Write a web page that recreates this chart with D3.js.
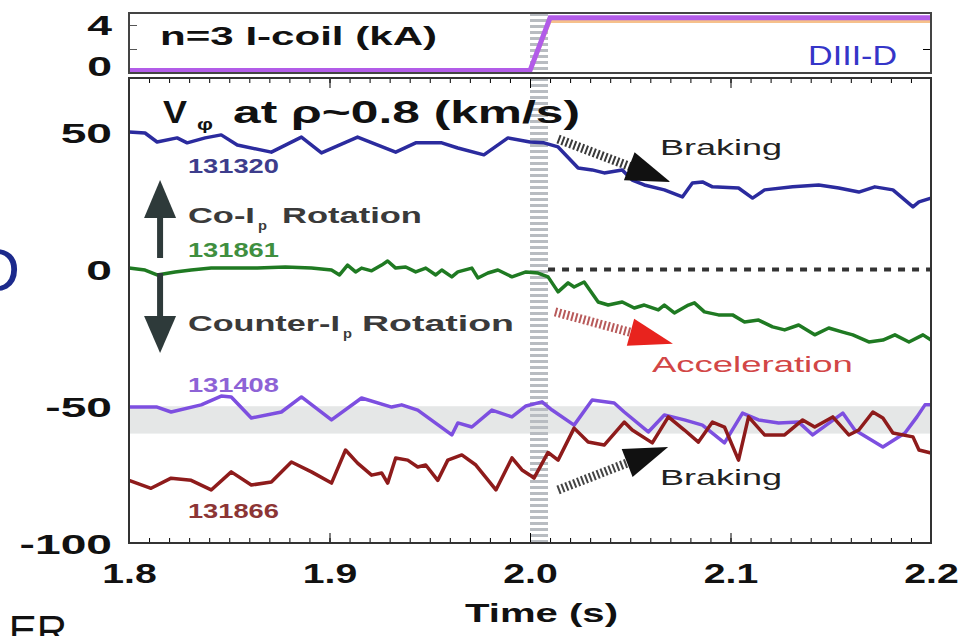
<!DOCTYPE html>
<html>
<head>
<meta charset="utf-8">
<script src="https://cdn.jsdelivr.net/npm/d3@7"></script>
<style>
body { margin: 0; background: #fff; }
text { font-family: "Liberation Sans", Arial, sans-serif; }
</style>
</head>
<body>
<script>
// ---- data ----
var xMajor = [1.8, 1.9, 2.0, 2.1, 2.2];
var xTickLabels = ["1.8", "1.9", "2.0", "2.1", "2.2"];
var yMajor = [-100, -50, 0, 50];
var yTickLabels = ["-100", "-50", "0", "50"];
var coilTicks = [0, 2, 4];

// n=3 I-coil current (kA)
var coilTime = [1.8, 2.0, 2.01, 2.2];
var coilCurrent = [0.2, 0.2, 4.6, 4.6];
var coilCurrentB = [0.1, 0.1, 4.3, 4.3];

// shot 131320
var t131320 = [1.800, 1.808, 1.814, 1.824, 1.829, 1.838, 1.846, 1.854, 1.871, 1.886, 1.896, 1.914, 1.933, 1.943, 1.956, 1.964, 1.977, 1.989, 2.000, 2.007, 2.014, 2.024, 2.031, 2.037, 2.046, 2.051, 2.057, 2.067, 2.076, 2.081, 2.086, 2.091, 2.104, 2.111, 2.117, 2.131, 2.144, 2.154, 2.164, 2.172, 2.181, 2.191, 2.194, 2.200];
var v131320 = [50.3, 49.9, 46.6, 48.1, 46.3, 48.1, 49.2, 45.5, 42.9, 48.4, 42.6, 48.4, 42.9, 46.3, 46.3, 44.4, 41.9, 48.1, 46.6, 46.3, 44.8, 37.1, 36.4, 35.3, 36.4, 32.7, 30.9, 29.1, 26.5, 31.6, 32.0, 30.2, 29.8, 26.1, 29.1, 30.2, 30.9, 29.8, 28.3, 30.2, 29.1, 22.9, 24.7, 26.1];

// shot 131861
var t131861 = [1.800, 1.808, 1.814, 1.823, 1.831, 1.841, 1.851, 1.864, 1.878, 1.891, 1.901, 1.905, 1.909, 1.913, 1.916, 1.921, 1.926, 1.929, 1.933, 1.938, 1.943, 1.948, 1.953, 1.956, 1.961, 1.964, 1.971, 1.974, 1.979, 1.984, 1.991, 1.998, 2.004, 2.009, 2.014, 2.019, 2.022, 2.027, 2.034, 2.039, 2.046, 2.052, 2.057, 2.064, 2.067, 2.072, 2.079, 2.082, 2.087, 2.094, 2.101, 2.107, 2.114, 2.121, 2.127, 2.134, 2.142, 2.149, 2.156, 2.161, 2.169, 2.176, 2.182, 2.189, 2.196, 2.200];
var v131861 = [0.5, -0.2, -2.0, -0.9, -0.2, 0.5, 0.5, 0.5, 0.9, 0.5, -0.2, -2.0, 1.6, -0.9, 0.5, -0.5, 1.6, 3.1, 0.5, 0.9, -0.9, 0.5, -2.0, -0.2, -2.7, -0.9, 0.5, -3.1, -1.3, -0.2, -2.7, -0.9, -1.3, -2.7, -8.2, -4.9, -6.4, -4.6, -11.9, -13.0, -11.9, -14.1, -13.0, -14.8, -13.0, -15.9, -13.0, -12.2, -15.5, -16.6, -16.6, -19.2, -18.5, -21.0, -22.1, -20.3, -23.9, -21.4, -22.9, -23.9, -26.5, -25.8, -23.9, -26.5, -23.9, -25.8];

// shot 131408
var t131408 = [1.800, 1.814, 1.821, 1.836, 1.846, 1.851, 1.861, 1.876, 1.886, 1.901, 1.916, 1.931, 1.936, 1.944, 1.961, 1.964, 1.971, 1.981, 1.991, 1.998, 2.006, 2.011, 2.022, 2.031, 2.042, 2.047, 2.059, 2.067, 2.077, 2.086, 2.097, 2.106, 2.114, 2.124, 2.134, 2.141, 2.156, 2.162, 2.176, 2.187, 2.193, 2.197, 2.200];
var v131408 = [-50.3, -50.3, -52.1, -49.5, -46.3, -46.6, -54.3, -52.1, -46.6, -55.0, -47.0, -50.3, -49.5, -51.4, -60.5, -56.1, -57.6, -51.4, -53.9, -49.9, -48.4, -51.4, -56.9, -47.7, -48.8, -52.1, -59.4, -53.2, -55.0, -56.9, -63.4, -52.5, -55.0, -56.1, -55.8, -60.5, -52.5, -58.7, -64.9, -59.8, -53.9, -49.5, -49.5];

// shot 131866
var t131866 = [1.800, 1.811, 1.821, 1.831, 1.841, 1.851, 1.861, 1.871, 1.881, 1.891, 1.901, 1.908, 1.914, 1.921, 1.926, 1.929, 1.933, 1.939, 1.944, 1.948, 1.954, 1.959, 1.966, 1.973, 1.983, 1.991, 1.996, 2.000, 2.002, 2.009, 2.014, 2.022, 2.029, 2.037, 2.047, 2.051, 2.061, 2.069, 2.077, 2.084, 2.091, 2.097, 2.104, 2.109, 2.117, 2.127, 2.136, 2.142, 2.151, 2.159, 2.164, 2.171, 2.176, 2.181, 2.191, 2.194, 2.200];
var v131866 = [-77.1, -80.0, -76.3, -77.1, -80.6, -74.0, -78.8, -77.7, -70.4, -74.0, -78.1, -66.0, -70.8, -75.2, -74.4, -78.1, -68.9, -69.7, -72.2, -71.5, -77.1, -69.7, -67.8, -71.5, -80.6, -68.9, -73.3, -75.2, -76.3, -66.9, -69.7, -58.0, -63.1, -64.2, -55.8, -58.7, -63.4, -53.9, -58.7, -63.1, -55.8, -57.6, -69.7, -53.9, -60.5, -60.5, -55.0, -57.6, -53.9, -60.5, -58.7, -52.1, -54.3, -59.8, -61.2, -66.0, -67.1];

var shots = [
  {name: "131320", t: t131320, v: v131320, color: "#2b2b9e", label: "#3d3d8c", lt: 1.8294, lv: 35.3},
  {name: "131861", t: t131861, v: v131861, color: "#1f7a22", label: "#3f8f3f", lt: 1.8294, lv: 4.6},
  {name: "131408", t: t131408, v: v131408, color: "#7d4fe0", label: "#8d63d6", lt: 1.8294, lv: -44.8},
  {name: "131866", t: t131866, v: v131866, color: "#8e1b1b", label: "#8c3535", lt: 1.8294, lv: -90.9}
];

var W = 965, H = 636;
var svg = d3.select("body").append("svg").attr("width", W).attr("height", H);

var x = d3.scaleLinear().domain([1.8, 2.2]).range([129, 931]);
var yTop = d3.scaleLinear().domain([0, 5]).range([73, 13]);
var y = d3.scaleLinear().domain([-100, 70]).range([543, 78]);

var sx = 1.65; // the figure is stretched sideways

function label(px, py, str, o) {
  return svg.append("text").attr("x", px).attr("y", py).text(str)
    .attr("font-size", o.size)
    .attr("font-weight", o.weight || "bold")
    .attr("fill", o.fill || "#111")
    .attr("font-family", o.family || "Liberation Sans, Arial, sans-serif")
    .attr("textLength", o.len)
    .attr("lengthAdjust", "spacingAndGlyphs");
}

// slide fragments on the left
svg.append("text").attr("x", 20).attr("y", 291).attr("text-anchor", "end")
  .attr("font-size", 62).attr("fill", "#1c2a8c").attr("font-family", "DejaVu Sans, sans-serif").text("D");
svg.append("text").attr("x", 67).attr("y", 645).attr("text-anchor", "end")
  .attr("font-size", 42).attr("fill", "#111").attr("font-family", "DejaVu Sans, sans-serif").text("ER");

// gray band
svg.append("rect").attr("x", x(1.8)).attr("width", x(2.2) - x(1.8))
  .attr("y", y(-50)).attr("height", y(-60) - y(-50)).attr("fill", "#e5e7e7");

// dashed vertical band at I-coil turn on
var bandX = (x(2.0) + x(2.009)) / 2;
[[y.range()[1], y.range()[0]], [yTop.range()[1], yTop.range()[0]]].forEach(function(r) {
  svg.append("line").attr("x1", bandX).attr("x2", bandX).attr("y1", r[0]).attr("y2", r[1])
    .attr("stroke", "#b8bcc1").attr("stroke-width", 18).attr("stroke-dasharray", "3,3");
});

// zero line (after coil turn on)
svg.append("line").attr("x1", x(2.009)).attr("x2", x(2.2)).attr("y1", y(0)).attr("y2", y(0))
  .attr("stroke", "#333").attr("stroke-width", 4).attr("stroke-dasharray", "7,7");

// top panel traces
var coilLine = d3.line().x(function(d) { return x(d[0]); }).y(function(d) { return yTop(d[1]); });
svg.append("path").datum(d3.zip(coilTime, coilCurrentB)).attr("d", coilLine)
  .attr("fill", "none").attr("stroke", "#f2a65a").attr("stroke-width", 3).attr("opacity", 0.7);
svg.append("path").datum(d3.zip(coilTime, coilCurrent)).attr("d", coilLine)
  .attr("fill", "none").attr("stroke", "#b25ce8").attr("stroke-width", 5);

// rotation traces
var line = d3.line().x(function(d) { return x(d[0]); }).y(function(d) { return y(d[1]); });
shots.forEach(function(s) {
  svg.append("path").datum(d3.zip(s.t, s.v)).attr("d", line)
    .attr("fill", "none").attr("stroke", s.color).attr("stroke-width", 3.5)
    .attr("stroke-linejoin", "round");
  label(x(s.lt), y(s.lv), s.name, {size: 20, fill: s.label, len: 91});
});

// axes
function clean(g) { g.select(".domain").remove(); }
var minor = d3.range(180, 221).map(function(d) { return d / 100; });

svg.append("g").attr("transform", "translate(0," + y.range()[0] + ")")
  .call(d3.axisBottom(x).tickValues(minor).tickSize(-5).tickFormat(""))
  .call(clean);
var xAxis = svg.append("g").attr("transform", "translate(0," + y.range()[0] + ")")
  .call(d3.axisBottom(x).tickValues(xMajor).tickSize(-10)
    .tickFormat(function(d, i) { return xTickLabels[i]; }))
  .call(clean);
xAxis.selectAll("text").attr("y", 40).attr("dy", null)
  .attr("font-size", 28).attr("font-weight", "bold").attr("fill", "#111")
  .attr("font-family", "Liberation Sans, Arial, sans-serif")
  .attr("transform", "scale(1.4,1)");

svg.append("g").attr("transform", "translate(0," + y.range()[1] + ")")
  .call(d3.axisTop(x).tickValues(minor).tickSize(-5).tickFormat(""))
  .call(clean);
svg.append("g").attr("transform", "translate(0," + y.range()[1] + ")")
  .call(d3.axisTop(x).tickValues(xMajor).tickSize(-10).tickFormat(""))
  .call(clean);

var yAxis = svg.append("g").attr("transform", "translate(" + x.range()[0] + ",0)")
  .call(d3.axisLeft(y).tickValues(yMajor).tickSize(0)
    .tickFormat(function(d, i) { return yTickLabels[i]; }))
  .call(clean);
yAxis.selectAll("text").attr("x", -17 / sx).attr("dy", "0.36em")
  .attr("font-size", 28).attr("font-weight", "bold").attr("fill", "#111")
  .attr("font-family", "Liberation Sans, Arial, sans-serif")
  .attr("transform", "scale(" + sx + ",1)");

var topAxis = svg.append("g").attr("transform", "translate(" + x.range()[0] + ",0)")
  .call(d3.axisLeft(yTop).tickValues(coilTicks).tickSize(-8)
    .tickFormat(function(d) { return d === 2 ? "" : d; }))
  .call(clean);
topAxis.selectAll("line").attr("stroke", "#555");
topAxis.selectAll("text").attr("x", -17 / sx)
  .attr("dy", function(d) { return d === 0 ? "0.1em" : "0.36em"; })
  .attr("font-size", 27).attr("font-weight", "bold").attr("fill", "#111")
  .attr("font-family", "Liberation Sans, Arial, sans-serif")
  .attr("transform", "scale(" + sx + ",1)");
svg.append("g").attr("transform", "translate(" + x.range()[1] + ",0)")
  .call(d3.axisRight(yTop).tickValues([2]).tickSize(-8).tickFormat(""))
  .call(clean);

// frames
svg.append("rect").attr("x", x.range()[0]).attr("y", yTop.range()[1])
  .attr("width", x.range()[1] - x.range()[0]).attr("height", yTop.range()[0] - yTop.range()[1])
  .attr("fill", "none").attr("stroke", "#444").attr("stroke-width", 2);
svg.append("rect").attr("x", x.range()[0]).attr("y", y.range()[1])
  .attr("width", x.range()[1] - x.range()[0]).attr("height", y.range()[0] - y.range()[1])
  .attr("fill", "none").attr("stroke", "#333").attr("stroke-width", 2);

// titles
label(x(1.8155), yTop(2.33), "n=3 I-coil (kA)", {size: 26, len: 277});
label(x(2.1387), yTop(0.67), "DIII-D", {size: 28, weight: "normal", fill: "#3535c8", len: 89});
label(x(1.817), y(53.6), "V", {size: 31, len: 24});
label(x(1.8339), y(51.0), "\u03c6", {size: 17, len: 16});
label(x(1.8519), y(53.6), "at \u03c1~0.8 (km/s)", {size: 31, len: 347});
label(465, 622, "Time (s)", {size: 25, len: 153});

// rotation direction arrow
var ax = x(1.8155);
var arrowShape = [
  [[32.7, 0], [18.8, -16], [18.8, 16]],
  [[-30.5, 0], [-17.0, -16], [-17.0, 16]]
];
arrowShape.forEach(function(tri) {
  svg.append("path")
    .attr("d", "M" + tri.map(function(p) { return (ax + p[1]) + "," + y(p[0]); }).join("L") + "Z")
    .attr("fill", "#2e3a3a");
});
svg.append("line").attr("x1", ax).attr("x2", ax).attr("y1", y(19.5)).attr("y2", y(4.2))
  .attr("stroke", "#2e3a3a").attr("stroke-width", 6);
svg.append("line").attr("x1", ax).attr("x2", ax).attr("y1", y(-1.3)).attr("y2", y(-17.5))
  .attr("stroke", "#2e3a3a").attr("stroke-width", 6);

label(x(1.8294), y(17.0), "Co-I", {size: 22, fill: "#3a3a3a", len: 67});
label(x(1.8643), y(14.6), "p", {size: 13, fill: "#3a3a3a", len: 9});
label(x(1.8763), y(17.0), "Rotation", {size: 22, fill: "#3a3a3a", len: 140});
label(x(1.8294), y(-22.5), "Counter-I", {size: 22, fill: "#3a3a3a", len: 152});
label(x(1.9068), y(-25.0), "p", {size: 13, fill: "#3a3a3a", len: 9});
label(x(1.9162), y(-22.5), "Rotation", {size: 22, fill: "#3a3a3a", len: 152});

// hatched effect arrows
function effectArrow(t0, v0, t1, v1, headLen, headHalf, shaftColor, headColor) {
  var x0 = x(t0), y0 = y(v0), x1 = x(t1), y1 = y(v1);
  var dx = x1 - x0, dy = y1 - y0, L = Math.hypot(dx, dy), ux = dx / L, uy = dy / L;
  var bx = x1 - ux * headLen, by = y1 - uy * headLen;
  svg.append("line").attr("x1", x0).attr("y1", y0).attr("x2", bx + ux * 3).attr("y2", by + uy * 3)
    .attr("stroke", shaftColor).attr("stroke-width", 9).attr("stroke-dasharray", "2,2.2");
  svg.append("path")
    .attr("d", "M" + x1 + "," + y1 + "L" + (bx - uy * headHalf) + "," + (by + ux * headHalf) +
      "L" + (bx + uy * headHalf) + "," + (by - ux * headHalf) + "Z")
    .attr("fill", headColor);
}
effectArrow(2.014, 47.7, 2.070, 32.0, 44, 15, "#3a3a3a", "#111");
effectArrow(2.0125, -15.5, 2.0713, -27.2, 44, 14, "#b85a5a", "#e8231e");
effectArrow(2.014, -80.6, 2.0689, -64.9, 44, 15, "#444", "#111");

var annFont = "DejaVu Sans, Verdana, sans-serif";
label(x(2.0648), y(41.9), "Braking", {size: 22, weight: "normal", fill: "#222", len: 122, family: annFont});
label(x(2.0608), y(-37.5), "Acceleration", {size: 22, weight: "normal", fill: "#d24646", len: 201, family: annFont});
label(x(2.0648), y(-78.8), "Braking", {size: 22, weight: "normal", fill: "#222", len: 122, family: annFont});
</script>
</body>
</html>
